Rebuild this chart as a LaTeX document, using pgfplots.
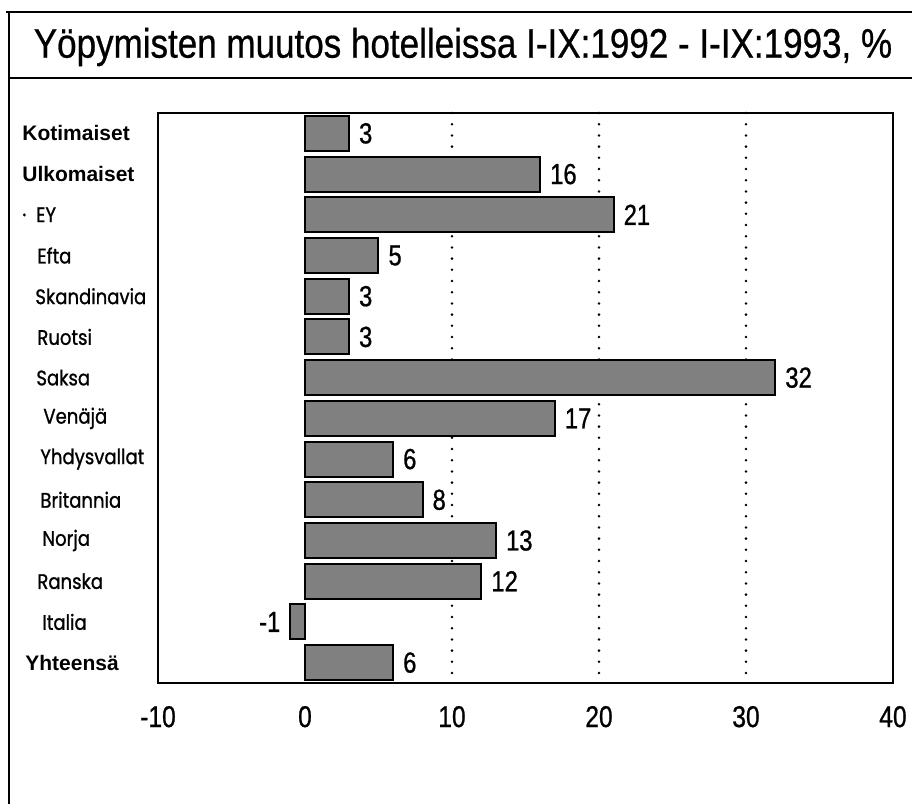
\documentclass[border=0pt]{standalone}
\usepackage{fontspec}
\setmainfont{Liberation Sans}
\newfontfamily\titlefont{Liberation Sans}[FakeStretch=0.85,FakeBold=0.6]
\newfontfamily\numfont{Liberation Sans}[FakeStretch=0.82,FakeBold=0.8]
\newfontfamily\catfont{Poppins}[FakeStretch=0.86,FakeBold=1]
\usepackage{pgfplots}
\pgfplotsset{compat=1.18}
\begin{document}
\begin{tikzpicture}
\useasboundingbox (0,0) rectangle (456pt,-402pt);
\draw[line width=1pt] (3pt,-6pt) -- (456pt,-6pt);
\draw[line width=1pt] (4.5pt,-6pt) -- (4.5pt,-402pt);
\draw[line width=1pt] (4.5pt,-39pt) -- (456pt,-39pt);
\node[font=\titlefont\fontsize{20.6}{23}\selectfont, inner sep=0pt] at (231.5pt,-23.5pt) {Yöpymisten muutos hotelleissa I-IX:1992 - I-IX:1993, \%};
\begin{axis}[
  at={(79pt,-56.5pt)}, anchor=north west,
  width=367.5pt, height=285pt, scale only axis,
  xbar, bar width=17.5pt,
  xmin=-10, xmax=40, ymin=-0.5, ymax=13.5, y dir=reverse,
  xtick={-10,0,10,20,30,40},
  ytick={0,...,13},
  yticklabels={{\bfseries Kotimaiset},{\bfseries Ulkomaiset},{\catfont ·\hspace*{5pt}EY},{\catfont\hspace*{7.5pt}Efta},{\catfont\hspace*{6.5pt}Skandinavia},{\catfont\hspace*{7.5pt}Ruotsi},{\catfont\hspace*{7pt}Saksa},{\catfont\hspace*{10.5pt}Venäjä},{\catfont\hspace*{9pt}Yhdysvallat},{\catfont\hspace*{9pt}Britannia},{\catfont\hspace*{10pt}Norja},{\catfont\hspace*{7.5pt}Ranska},{\catfont\hspace*{10pt}Italia},{\bfseries\hspace*{1.5pt}Yhteensä}},
  major tick length=0pt,
  axis line style={line width=1pt},
  /pgf/number format/assume math mode=true,
  xticklabel style={font=\numfont\fontsize{15}{17}\selectfont, yshift=-8pt},
  yticklabel style={anchor=west, xshift=-68pt, inner xsep=0pt, font=\fontsize{10.5}{12}\selectfont},
  extra x ticks={10,20,30}, extra x tick labels={},
  extra x tick style={grid=major, major grid style={black, line width=1.4pt, line cap=round, dash pattern=on 0pt off 5.6pt}},
  nodes near coords,
  every node near coord/.append style={font=\numfont\fontsize{14.5}{16}\selectfont, inner xsep=4.5pt, inner ysep=0pt, black},
]
\addplot[fill=black!50, draw=black, line width=1pt] coordinates {
(3,0) (16,1) (21,2) (5,3) (3,4) (3,5) (32,6) (17,7) (6,8) (8,9) (13,10) (12,11) (-1,12) (6,13)
};
\end{axis}
\end{tikzpicture}
\end{document}
